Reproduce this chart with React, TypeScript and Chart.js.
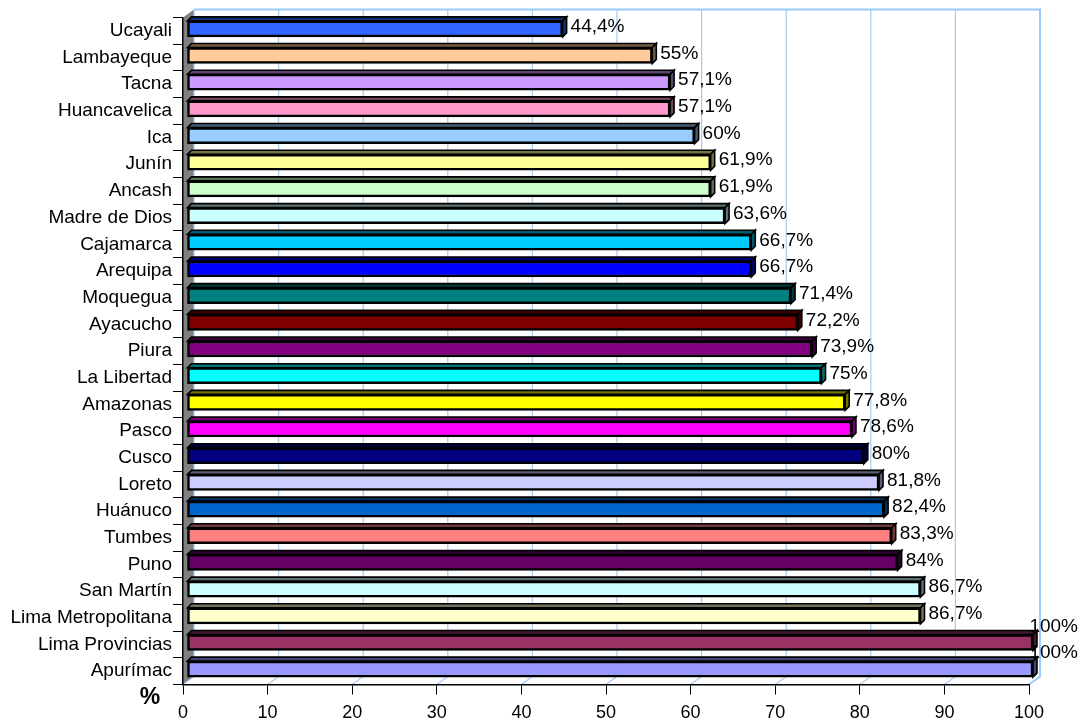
import React, { useEffect, useRef } from "react";
import { Chart, registerables } from "chart.js";

Chart.register(...registerables);

const regions = [
  "Ucayali",
  "Lambayeque",
  "Tacna",
  "Huancavelica",
  "Ica",
  "Junín",
  "Ancash",
  "Madre de Dios",
  "Cajamarca",
  "Arequipa",
  "Moquegua",
  "Ayacucho",
  "Piura",
  "La Libertad",
  "Amazonas",
  "Pasco",
  "Cusco",
  "Loreto",
  "Huánuco",
  "Tumbes",
  "Puno",
  "San Martín",
  "Lima Metropolitana",
  "Lima Provincias",
  "Apurímac",
];

const percentages = [
  44.4, 55, 57.1, 57.1, 60, 61.9, 61.9, 63.6, 66.7, 66.7, 71.4, 72.2, 73.9, 75,
  77.8, 78.6, 80, 81.8, 82.4, 83.3, 84, 86.7, 86.7, 100, 100,
];

const barColors = [
  "#3366FF",
  "#FFCC99",
  "#CC99FF",
  "#FF99CC",
  "#99CCFF",
  "#FFFF99",
  "#CCFFCC",
  "#CCFFFF",
  "#00CCFF",
  "#0000FF",
  "#008080",
  "#800000",
  "#800080",
  "#00FFFF",
  "#FFFF00",
  "#FF00FF",
  "#000080",
  "#CCCCFF",
  "#0066CC",
  "#FF8080",
  "#660066",
  "#CCFFFF",
  "#FFFFCC",
  "#993366",
  "#9999FF",
];

const xMin = 0;
const xMax = 100;
const xStep = 10;
const axisUnit = "%";

const FONT = "'Liberation Sans', Arial, Helvetica, sans-serif";
const W = 1083;
const H = 721;
const DEPTH = 4;
const SHIFT_X = 4;
const SHIFT_Y = -2;
const WALL_DX = 11;
const WALL_DY = -8;
const GRID_BLUE = "#A6CAF0";

function darken(hex: string, f: number): string {
  const n = parseInt(hex.slice(1), 16);
  const r = Math.round(((n >> 16) & 255) * f);
  const g = Math.round(((n >> 8) & 255) * f);
  const b = Math.round((n & 255) * f);
  return `rgb(${r},${g},${b})`;
}

function fmt(v: number): string {
  return String(v).replace(".", ",") + "%";
}

const wallPlugin = {
  id: "wall3d",
  beforeDraw(chart: any) {
    const { ctx, chartArea: a, scales } = chart;
    const x = scales.x;
    const backTop = a.top + WALL_DY;
    const backBottom = a.bottom + WALL_DY;
    ctx.save();
    ctx.fillStyle = "#808080";
    ctx.beginPath();
    ctx.moveTo(a.left, a.top);
    ctx.lineTo(a.left + WALL_DX, backTop);
    ctx.lineTo(a.left + WALL_DX, backBottom);
    ctx.lineTo(a.left, a.bottom);
    ctx.closePath();
    ctx.fill();
    ctx.strokeStyle = GRID_BLUE;
    ctx.lineWidth = 1.2;
    for (let v = xMin; v <= xMax; v += xStep) {
      const xf = x.getPixelForValue(v);
      const xb = xf + WALL_DX;
      ctx.beginPath();
      ctx.moveTo(xb, backTop);
      ctx.lineTo(xb, backBottom);
      ctx.lineTo(xf, a.bottom);
      ctx.stroke();
    }
    ctx.strokeStyle = "#99CCFF";
    ctx.lineWidth = 2;
    const xr = x.getPixelForValue(xMax) + WALL_DX;
    ctx.beginPath();
    ctx.moveTo(a.left + WALL_DX, backTop);
    ctx.lineTo(xr, backTop);
    ctx.lineTo(xr, backBottom);
    ctx.lineTo(xr - WALL_DX, a.bottom);
    ctx.stroke();
    ctx.restore();
  },
  beforeDatasetsDraw(chart: any) {
    chart.ctx.save();
    chart.ctx.translate(SHIFT_X, SHIFT_Y);
  },
  afterDatasetsDraw(chart: any) {
    const { ctx } = chart;
    const meta = chart.getDatasetMeta(0);
    meta.data.forEach((bar: any, i: number) => {
      const { x, y, base, height } = bar.getProps(["x", "y", "base", "height"], true);
      const top = y - height / 2;
      const bottom = y + height / 2;
      const left = Math.min(base, x);
      const right = Math.max(base, x);
      const face = darken(barColors[i], 0.45);
      ctx.lineWidth = 1.6;
      ctx.strokeStyle = "#000";
      ctx.lineJoin = "miter";
      ctx.fillStyle = face;
      ctx.beginPath();
      ctx.moveTo(left, top);
      ctx.lineTo(left + DEPTH, top - DEPTH);
      ctx.lineTo(right + DEPTH, top - DEPTH);
      ctx.lineTo(right, top);
      ctx.closePath();
      ctx.fill();
      ctx.stroke();
      ctx.beginPath();
      ctx.moveTo(right, top);
      ctx.lineTo(right + DEPTH, top - DEPTH);
      ctx.lineTo(right + DEPTH, bottom - DEPTH);
      ctx.lineTo(right, bottom);
      ctx.closePath();
      ctx.fill();
      ctx.stroke();
    });
    ctx.restore();

    ctx.save();
    ctx.font = `19px ${FONT}`;
    ctx.fillStyle = "#000";
    ctx.textAlign = "left";
    ctx.textBaseline = "middle";
    meta.data.forEach((bar: any, i: number) => {
      const { x, y, height } = bar.getProps(["x", "y", "height"], true);
      const text = fmt(percentages[i]);
      const w = ctx.measureText(text).width;
      let lx = x + SHIFT_X + DEPTH + 4;
      let ly = y + SHIFT_Y - 2;
      if (lx + w > W - 5) {
        lx = W - 5 - w;
        ly = y + SHIFT_Y - height / 2 - 8;
      }
      ctx.fillText(text, lx, ly);
    });
    ctx.restore();

    ctx.save();
    ctx.font = `bold 23px ${FONT}`;
    ctx.fillStyle = "#000";
    ctx.textAlign = "center";
    ctx.textBaseline = "middle";
    ctx.fillText(axisUnit, 150, 698);
    ctx.restore();
  },
};

export default function App() {
  const canvasRef = useRef<HTMLCanvasElement | null>(null);

  useEffect(() => {
    const canvas = canvasRef.current;
    if (!canvas) return;
    const chart = new Chart(canvas, {
      type: "bar",
      data: {
        labels: regions,
        datasets: [
          {
            data: percentages,
            backgroundColor: barColors,
            borderColor: "#000",
            borderWidth: 2.5,
            borderSkipped: false,
            barThickness: 16,
          },
        ],
      },
      options: {
        indexAxis: "y",
        animation: false,
        responsive: false,
        maintainAspectRatio: false,
        layout: { padding: { top: 17.5, right: 54, left: 0, bottom: 0 } },
        plugins: {
          legend: { display: false },
          tooltip: { enabled: false },
        },
        scales: {
          y: {
            type: "category",
            offset: true,
            grid: {
              display: true,
              drawOnChartArea: false,
              drawTicks: true,
              tickLength: 10,
              color: "#000",
              lineWidth: 1,
              offset: true,
            },
            border: { display: true, color: "#000", width: 1.5 },
            ticks: {
              color: "#000",
              font: { family: FONT, size: 19 },
              padding: 1,
            },
            afterFit(scale: any) {
              scale.width = 183;
            },
          },
          x: {
            type: "linear",
            min: xMin,
            max: xMax,
            ticks: {
              stepSize: xStep,
              color: "#000",
              font: { family: FONT, size: 18 },
              padding: 8,
              maxRotation: 0,
            },
            grid: {
              display: true,
              drawOnChartArea: false,
              drawTicks: true,
              tickLength: 10,
              color: "#000",
            },
            border: { display: true, color: "#000", width: 1.5 },
            afterFit(scale: any) {
              scale.height = H - 684.5;
            },
          },
        },
      },
      plugins: [wallPlugin],
    } as any);
    return () => chart.destroy();
  }, []);

  return (
    <div style={{ position: "fixed", left: 0, top: 0, width: W, height: H, background: "#fff" }}>
      <canvas ref={canvasRef} width={W} height={H} style={{ display: "block" }} />
    </div>
  );
}
